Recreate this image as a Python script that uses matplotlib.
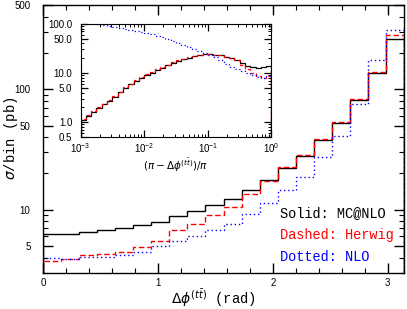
import matplotlib
matplotlib.use("Agg")
import matplotlib.pyplot as plt
import numpy as np
from matplotlib.ticker import LogLocator, FixedLocator, MultipleLocator, NullFormatter

# main histogram: 20 bins of width pi/20 in delta phi
n_bins = 20
mcatnlo = [6.32, 6.32, 6.48, 6.82, 7.03, 7.5, 7.87, 8.8, 9.68, 11.0,
           12.3, 14.7, 17.8, 22.2, 27.9, 38.2, 52.9, 81.0, 137.0, 260.0]
herwig = [3.77, 3.89, 4.23, 4.31, 4.48, 4.92, 5.45, 6.73, 7.55, 8.97,
          10.5, 13.6, 17.2, 22.5, 28.3, 38.5, 53.9, 83.0, 140.0, 283.0]
nlo = [3.99, 3.91, 4.07, 4.07, 4.17, 4.42, 5.0, 5.49, 6.0, 6.73,
       7.55, 9.14, 11.3, 14.5, 18.7, 27.4, 40.7, 76.0, 174.0, 309.0]

# inset: (pi - dphi)/pi, 12 log bins per decade from 1e-3 to 1
inset_decades = (-3, 0)
inset_per_decade = 12
inset_mcatnlo = [1.10, 1.33, 1.60, 1.93, 2.29, 2.72, 3.24, 4.03, 4.98, 5.85,
                 6.78, 7.85, 9.0, 10.1, 11.4, 12.7, 14.2, 15.8, 17.4, 18.8,
                 20.4, 21.9, 23.2, 24.0, 24.0, 23.7, 22.9, 21.6, 20.2, 18.4,
                 15.8, 14.1, 13.2, 12.9, 13.0, 13.8]
inset_herwig = [1.14, 1.38, 1.66, 2.0, 2.38, 2.83, 3.37, 4.19, 5.18, 6.08,
                7.05, 8.16, 9.36, 10.5, 11.9, 13.2, 14.8, 16.4, 18.1, 19.5,
                21.2, 22.4, 23.5, 24.1, 24.0, 23.6, 22.8, 21.5, 20.0, 18.0,
                14.5, 12.0, 10.2, 8.8, 7.8, 8.6]
inset_nlo = [125, 116, 108, 101, 96, 91, 87, 83, 79, 75,
             72, 68, 65, 61, 57, 53, 49, 45, 41, 37,
             33.5, 30, 27.5, 25.5, 23.5, 21, 18.5, 15.5, 13.5, 12,
             10.8, 9.8, 9.0, 8.3, 7.8, 8.5]

mono = "Liberation Mono"
sans = "Liberation Sans"
plt.rcParams['font.family'] = sans
plt.rcParams['mathtext.fontset'] = 'dejavusans'

fig = plt.figure(figsize=(4.07, 3.09), dpi=100)
ax = fig.add_axes([0.1057, 0.1175, 0.887, 0.866])

edges = np.linspace(0, np.pi, n_bins + 1)
ax.stairs(mcatnlo, edges, color='black', lw=1.0)
ax.stairs(herwig, edges, color='red', lw=1.0, linestyle=(0, (4, 2)))
ax.stairs(nlo, edges, color='blue', lw=1.0, linestyle=(0, (1, 2)))

ax.set_yscale('log')
ax.set_xlim(0, np.pi)
ax.set_ylim(3.0, 500)
ax.xaxis.set_major_locator(FixedLocator([0, 1, 2, 3]))
ax.xaxis.set_minor_locator(MultipleLocator(0.2))
ax.yaxis.set_major_locator(FixedLocator([5, 10, 50, 100, 500]))
ax.yaxis.set_major_formatter(matplotlib.ticker.FixedFormatter(['5', '10', '50', '100', '500']))
ax.yaxis.set_minor_locator(LogLocator(base=10, subs=np.arange(1, 10)))
ax.yaxis.set_minor_formatter(NullFormatter())
ax.tick_params(which='both', direction='in', top=True, right=True, labelsize=7)
ax.tick_params(which='major', length=7, width=1)
ax.tick_params(which='minor', length=3.5, width=0.8)
ax.tick_params(axis='y', pad=9)
ax.tick_params(axis='x', pad=4)
for s in ax.spines.values():
    s.set_linewidth(1.0)

fig.text(0.027, 0.553, r'$\sigma$/bin (pb)', rotation=90, ha='center', va='center',
         fontsize=10, family=[mono, 'DejaVu Sans'])
fig.text(0.525, 0.035, r'$\Delta\phi^{(t\bar{t})}$ (rad)', ha='center', va='center',
         fontsize=10, family=[mono, 'DejaVu Sans'])

fig.text(0.688, 0.310, 'Solid: MC@NLO', color='black', fontsize=9.8, family=mono, va='center')
fig.text(0.688, 0.239, 'Dashed: Herwig', color='red', fontsize=9.8, family=mono, va='center')
fig.text(0.688, 0.169, 'Dotted: NLO', color='blue', fontsize=9.8, family=mono, va='center')

# inset
ins = fig.add_axes([0.198, 0.557, 0.469, 0.366])
ins.set_facecolor('white')
in_edges = np.logspace(inset_decades[0], inset_decades[1],
                       (inset_decades[1] - inset_decades[0]) * inset_per_decade + 1)
ins.stairs(inset_mcatnlo, in_edges, color='black', lw=0.9)
ins.stairs(inset_herwig, in_edges, color='red', lw=0.9, linestyle=(0, (3, 2)))
ins.stairs(inset_nlo, in_edges, color='blue', lw=0.9, linestyle=(0, (1, 2)))
ins.set_xscale('log')
ins.set_yscale('log')
ins.set_xlim(1e-3, 1)
ins.set_ylim(0.5, 100)
ins.xaxis.set_major_locator(FixedLocator([1e-3, 1e-2, 1e-1, 1]))
ins.xaxis.set_minor_locator(LogLocator(base=10, subs=np.arange(2, 10)))
ins.xaxis.set_minor_formatter(NullFormatter())
ins.yaxis.set_major_locator(FixedLocator([0.5, 1, 5, 10, 50, 100]))
ins.yaxis.set_major_formatter(matplotlib.ticker.FixedFormatter(['0.5', '1.0', '5.0', '10.0', '50.0', '100.0']))
ins.yaxis.set_minor_locator(LogLocator(base=10, subs=np.arange(1, 10)))
ins.yaxis.set_minor_formatter(NullFormatter())
ins.tick_params(which='both', direction='in', top=True, right=True, labelsize=7)
ins.tick_params(which='major', length=5, width=0.9)
ins.tick_params(which='minor', length=2.5, width=0.7)
ins.tick_params(axis='y', pad=6)
ins.tick_params(axis='x', pad=3)
ins.set_xlabel(r'$(\pi - \Delta\phi^{(t\bar{t})})/\pi$', fontsize=7.5, labelpad=1)

fig.savefig('out.png', dpi=100)
